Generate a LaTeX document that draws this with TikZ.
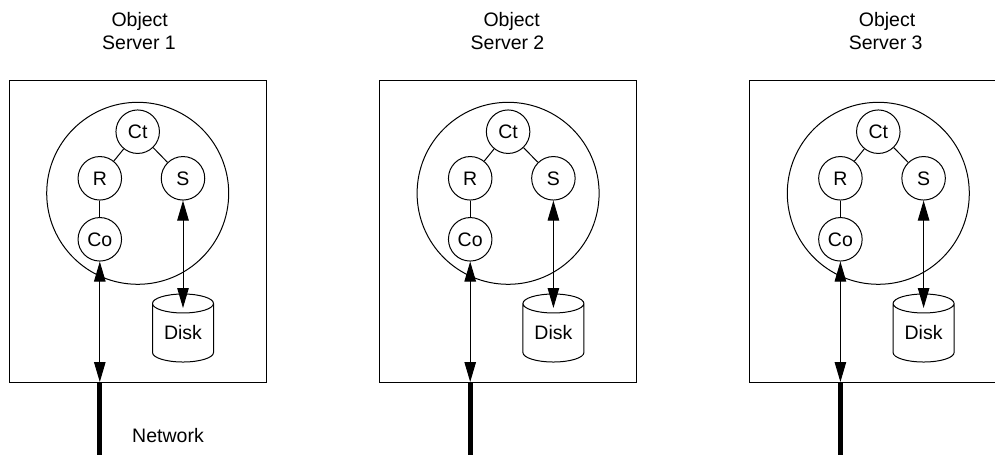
\documentclass[tikz,border=0pt]{standalone}
\usepackage{fontspec}
\setmainfont{Liberation Sans}
\usetikzlibrary{arrows.meta,shapes.geometric}
\tikzset{
  x=1pt,y=-1pt,
  srv/.style={draw,line width=1pt,minimum width=257pt,minimum height=302pt,inner sep=0pt},
  big/.style={draw,circle,line width=1pt,minimum size=182pt,inner sep=0pt},
  small/.style={draw,circle,line width=1pt,minimum size=43.5pt,inner sep=0pt,font=\fontsize{19.5}{23}\selectfont},
  disk/.style={draw,cylinder,shape border rotate=90,aspect=0.5,line width=1pt,minimum width=61pt,minimum height=68pt,inner sep=0pt,font=\fontsize{19.5}{23}\selectfont},
  txt/.style={align=center,font=\fontsize{19.5}{23}\selectfont,inner sep=0pt},
  thin link/.style={line width=1pt},
  io/.style={line width=1pt,{Triangle[length=20pt,width=11.5pt]}-{Triangle[length=20pt,width=11.5pt]}},
  net/.style={line width=5pt}
}
\begin{document}
\begin{tikzpicture}
\useasboundingbox (0,0) rectangle (995,455);
\foreach \i/\dx/\tx/\ob in {1/0/139/1.4pt,2/370.4/137.1/8.4pt,3/740.6/145.1/2.6pt}{
  \begin{scope}[shift={(\dx,0)}]
  \node[srv] (box\i) at (137.8,231.2) {};
  \node[big] (c\i) at (137.7,193.3) {};
  \node[small] (ct\i) at (137.7,131.7) {Ct};
  \node[small] (r\i) at (99.8,178.3) {R};
  \node[small] (s\i) at (183,178.3) {S};
  \node[small] (co\i) at (99.8,239.3) {Co};
  \node[disk] (d\i) at (183,333) {\raisebox{-5pt}{Disk}};
  \coordinate (dt\i) at (183,308);
  \coordinate (in\i) at (99.8,382);
  \coordinate (out\i) at (99.8,455);
  \node[txt] (t\i) at (\tx,31.5) {\hspace*{\ob}Object\\Server \i};
  \draw[thin link] (ct\i) -- (r\i);
  \draw[thin link] (ct\i) -- (s\i);
  \draw[thin link] (r\i) -- (co\i);
  \draw[io] (s\i) -- (dt\i);
  \draw[io] (co\i) -- (in\i);
  \draw[net] (in\i) -- (out\i);
  \end{scope}
}
\node[txt] (network) at (168,436) {Network};
\end{tikzpicture}
\end{document}
